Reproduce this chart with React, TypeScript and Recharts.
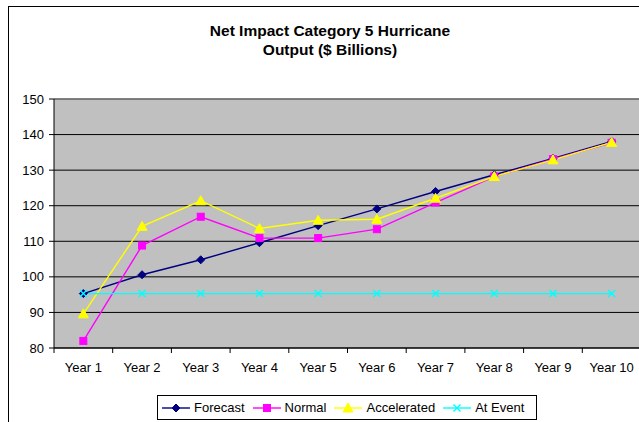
import { LineChart, Line, XAxis, YAxis, CartesianGrid, ReferenceLine } from "recharts";

const years = ["Year 1", "Year 2", "Year 3", "Year 4", "Year 5", "Year 6", "Year 7", "Year 8", "Year 9", "Year 10"];
const forecast = [95.3, 100.6, 104.8, 109.6, 114.4, 119.1, 124.0, 128.7, 133.3, 138.1];
const normal = [82.0, 108.8, 116.9, 110.9, 110.9, 113.4, 120.9, 128.2, 133.1, 137.7];
const accelerated = [89.6, 114.2, 121.4, 113.6, 115.9, 116.2, 122.1, 128.2, 132.9, 137.8];
const atEvent = [95.3, 95.3, 95.3, 95.3, 95.3, 95.3, 95.3, 95.3, 95.3, 95.3];
const yTicks = [80, 90, 100, 110, 120, 130, 140, 150];

const FONT = '"Liberation Sans", Arial, sans-serif';
const CHART_W = 660;
const CHART_H = 440;
const Y_AXIS_W = 54;
const MARGIN = { top: 99, right: 19, bottom: 62, left: 0 };
const PLOT_W = CHART_W - MARGIN.left - MARGIN.right - Y_AXIS_W;
const BAND = PLOT_W / years.length;

const data = years.map((year, i) => ({
  year,
  forecast: forecast[i],
  normal: normal[i],
  accelerated: accelerated[i],
  atEvent: atEvent[i],
}));

type MarkerKind = "diamond" | "square" | "triangle" | "cross";

function marker(kind: MarkerKind, cx: number, cy: number, color: string, key?: string) {
  if (kind === "diamond") {
    return (
      <polygon key={key} points={`${cx},${cy - 4} ${cx + 4},${cy} ${cx},${cy + 4} ${cx - 4},${cy}`} fill={color} stroke={color} />
    );
  }
  if (kind === "square") {
    return <rect key={key} x={cx - 3.5} y={cy - 3.5} width={7} height={7} fill={color} stroke={color} />;
  }
  if (kind === "triangle") {
    return (
      <polygon key={key} points={`${cx},${cy - 5} ${cx + 5},${cy + 4} ${cx - 5},${cy + 4}`} fill={color} stroke={color} />
    );
  }
  return (
    <g key={key} stroke={color} strokeWidth={1.4}>
      <line x1={cx - 3.5} y1={cy - 3.5} x2={cx + 3.5} y2={cy + 3.5} />
      <line x1={cx - 3.5} y1={cy + 3.5} x2={cx + 3.5} y2={cy - 3.5} />
    </g>
  );
}

const series: { key: string; name: string; color: string; kind: MarkerKind }[] = [
  { key: "forecast", name: "Forecast", color: "#000080", kind: "diamond" },
  { key: "normal", name: "Normal", color: "#ff00ff", kind: "square" },
  { key: "accelerated", name: "Accelerated", color: "#ffff00", kind: "triangle" },
  { key: "atEvent", name: "At Event", color: "#00ffff", kind: "cross" },
];

// category labels sit mid-band, tick marks fall on the band edges
function YearTick(props: any) {
  const { x, y, payload, index } = props;
  const last = index === years.length - 1;
  return (
    <g>
      <line x1={x - BAND / 2} y1={y} x2={x - BAND / 2} y2={y + 5} stroke="#000" />
      {last && <line x1={x + BAND / 2} y1={y} x2={x + BAND / 2} y2={y + 5} stroke="#000" />}
      <text x={x} y={y + 24} textAnchor="middle" fontSize={13} fontFamily={FONT} fill="#000">
        {payload.value}
      </text>
    </g>
  );
}

export default function App() {
  return (
    <div style={{ position: "absolute", left: 0, top: 0, width: 639, height: 422, overflow: "hidden", background: "#fff" }}>
      <div
        style={{
          position: "absolute",
          left: 8,
          top: 6,
          width: 700,
          height: 500,
          border: "1px solid #000",
        }}
      />
      <div
        style={{
          position: "absolute",
          left: 130,
          top: 21,
          width: 400,
          textAlign: "center",
          fontFamily: FONT,
          fontWeight: "bold",
          fontSize: 15.5,
          lineHeight: "19px",
          color: "#000",
        }}
      >
        Net Impact Category 5 Hurricane
        <br />
        Output ($ Billions)
      </div>
      <div style={{ position: "absolute", left: 0, top: 0 }}>
        <LineChart width={CHART_W} height={CHART_H} data={data} margin={MARGIN}>
          <CartesianGrid vertical={false} stroke="#000" fill="#c0c0c0" fillOpacity={1} />
          <ReferenceLine y={150} stroke="#808080" strokeWidth={1.5} />
          <XAxis
            dataKey="year"
            type="category"
            height={30}
            padding={{ left: BAND / 2, right: BAND / 2 }}
            axisLine={{ stroke: "#000" }}
            tickLine={false}
            tickSize={0}
            tickMargin={0}
            interval={0}
            tick={<YearTick />}
          />
          <YAxis
            width={Y_AXIS_W}
            domain={[80, 150]}
            ticks={yTicks}
            interval={0}
            axisLine={{ stroke: "#000" }}
            tickLine={{ stroke: "#000" }}
            tickSize={5}
            tickMargin={5}
            tick={{ fontSize: 13, fontFamily: FONT, fill: "#000" }}
          />
          {series.map((s) => (
            <Line
              key={s.key}
              dataKey={s.key}
              name={s.name}
              type="linear"
              stroke={s.color}
              strokeWidth={1.4}
              isAnimationActive={false}
              dot={(p: any) => marker(s.kind, p.cx, p.cy, s.color, `${s.key}-${p.index}`)}
              activeDot={false}
            />
          ))}
        </LineChart>
      </div>
      <div
        style={{
          position: "absolute",
          left: 157,
          top: 395,
          width: 380,
          height: 25,
          border: "1px solid #000",
          background: "#fff",
          display: "flex",
          alignItems: "center",
          paddingLeft: 3,
          boxSizing: "border-box",
          fontFamily: FONT,
          fontSize: 13,
          color: "#000",
          whiteSpace: "nowrap",
        }}
      >
        {series.map((s) => (
          <div key={s.key} style={{ display: "flex", alignItems: "center", marginRight: 7, flexShrink: 0 }}>
            <svg width={30} height={12} style={{ marginRight: 3 }}>
              <line x1={1} y1={6} x2={29} y2={6} stroke={s.color} strokeWidth={1.4} />
              {marker(s.kind, 15, 6, s.color)}
            </svg>
            <span>{s.name}</span>
          </div>
        ))}
      </div>
    </div>
  );
}
